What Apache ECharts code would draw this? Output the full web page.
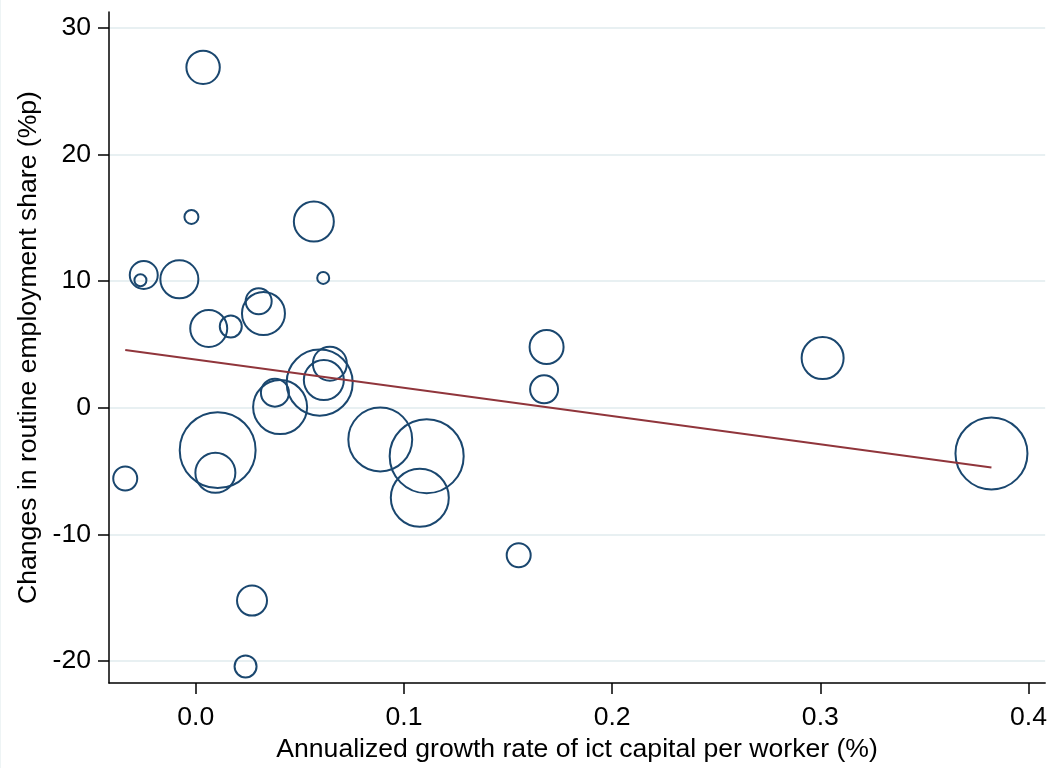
<!DOCTYPE html>
<html><head><meta charset="utf-8">
<script src="https://cdn.jsdelivr.net/npm/echarts@6/dist/echarts.min.js"></script>
<style>html,body{margin:0;padding:0;background:#fff}#c{width:1050px;height:768px}</style>
</head><body><div id="c"></div>
<script>
// Annualized growth rate of ICT capital per worker (%)
const growthX = [0.0035, -0.0021, 0.0567, -0.0250, -0.0266, -0.0079, 0.0612, 0.0062, 0.0168, 0.0302,
                 0.0325, 0.0595, 0.0615, 0.0644, 0.0405, 0.0380, 0.0105, 0.0094, 0.0886, 0.1109,
                 0.1076, -0.0339, 0.0270, 0.0239, 0.1685, 0.1673, 0.3011, 0.3822, 0.1551];
// Changes in routine employment share (%p)
const routineY = [26.88, 15.07, 14.70, 10.48, 10.06, 10.14, 10.25, 6.25, 6.41, 8.40,
                  7.44, 1.98, 2.18, 3.48, 0.05, 1.19, -3.35, -5.14, -2.51, -3.83,
                  -7.11, -5.59, -15.23, -20.43, 4.79, 1.45, 3.92, -3.61, -11.65];
// bubble weights
const weights = [2.79, 0.49, 4.00, 1.96, 0.36, 3.61, 0.36, 3.42, 1.21, 1.69,
                 4.62, 10.9, 4.00, 2.89, 7.29, 1.96, 14.4, 4.00, 10.2, 13.7,
                 8.41, 1.44, 2.25, 1.21, 2.89, 1.96, 4.41, 12.96, 1.44];
// fitted line end points
const fitX = [-0.0339, 0.3822];
const fitY = [4.55, -4.72];
const xTicks = [0, 0.1, 0.2, 0.3, 0.4];
const yTicks = [-20, -10, 0, 10, 20, 30];

const FONT = 'Liberation Sans, Arial, sans-serif';
const chart = echarts.init(document.getElementById('c'), null, {renderer: 'canvas'});
chart.setOption({
  backgroundColor: '#ffffff',
  animation: false,
  graphic: [{type: 'rect', left: 0, top: 0, shape: {width: 1, height: 768}, style: {fill: '#eef4f5'}, silent: true}],
  grid: {left: 109, right: 0, top: 12, bottom: 85, containLabel: false},
  xAxis: {
    type: 'value', min: -0.0417, max: 0.408,
    name: 'Annualized growth rate of ict capital per worker (%)',
    nameLocation: 'middle', nameGap: 44,
    nameTextStyle: {fontFamily: FONT, fontSize: 26.6, color: '#000'},
    axisLine: {show: true, onZero: false, lineStyle: {color: '#000', width: 1.5}},
    axisTick: {show: true, length: 11, customValues: xTicks, lineStyle: {color: '#000', width: 1.5}},
    axisLabel: {customValues: xTicks, margin: 21, fontFamily: FONT, fontSize: 26.6, color: '#000',
                formatter: v => Number(v).toFixed(1)},
    splitLine: {show: false}
  },
  yAxis: {
    type: 'value', min: -21.74, max: 31.25,
    name: 'Changes in routine employment share (%p)',
    nameLocation: 'middle', nameGap: 64,
    nameTextStyle: {fontFamily: FONT, fontSize: 26.6, color: '#000'},
    axisLine: {show: true, onZero: false, lineStyle: {color: '#000', width: 1.5}},
    axisTick: {show: true, length: 11, customValues: yTicks, lineStyle: {color: '#000', width: 1.5}},
    axisLabel: {customValues: yTicks, margin: 18, fontFamily: FONT, fontSize: 26.6, color: '#000',
                formatter: v => String(Math.round(v))},
    splitLine: {show: false}
  },
  series: [
    {
      type: 'line', data: [], z: 0, silent: true,
      markLine: {
        z: 0, silent: true, symbol: 'none', animation: false,
        label: {show: false},
        lineStyle: {color: '#e8f0f2', width: 2, type: 'solid'},
        data: yTicks.map(v => ({yAxis: v}))
      }
    },
    {
      type: 'scatter', z: 2,
      data: growthX.map((x, i) => [x, routineY[i], weights[i]]),
      symbol: 'circle',
      symbolSize: v => 20 * Math.sqrt(v[2]),
      itemStyle: {color: 'rgba(0,0,0,0)', borderColor: '#1a476f', borderWidth: 2, opacity: 1},
      emphasis: {disabled: true}
    },
    {
      type: 'line', z: 3,
      data: fitX.map((x, i) => [x, fitY[i]]),
      showSymbol: false, symbol: 'none',
      lineStyle: {color: '#90353b', width: 2},
      emphasis: {disabled: true}
    }
  ]
});
</script></body></html>
